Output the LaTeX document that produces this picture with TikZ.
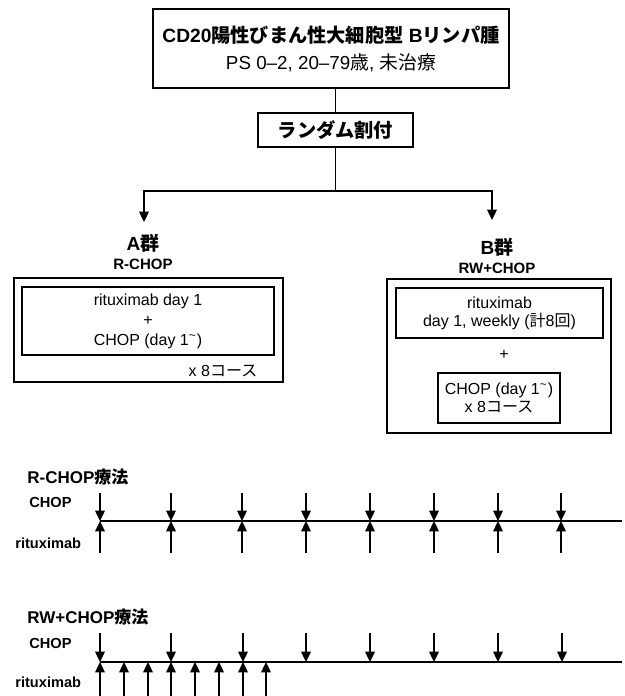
\documentclass[tikz,border=0pt]{standalone}
\usepackage{fontspec}
\setmainfont{Liberation Sans}
\newfontfamily\jp{Noto Sans CJK JP}
\usetikzlibrary{arrows.meta}
\newcommand{\tld}{\textsuperscript{\textasciitilde}}
\begin{document}
\begin{tikzpicture}[x=0.5pt,y=-0.5pt,
  box/.style={draw, line width=0.9pt, inner sep=0pt, align=center},
  txt/.style={inner sep=0pt, align=center},
  arr/.style={line width=0.85pt, -{Triangle[width=4.8pt,length=5.2pt]}},
  ln/.style={line width=0.85pt},
  fhead/.style={font=\bfseries\fontsize{9.6}{12}\selectfont},
  fgrp/.style={font=\bfseries\fontsize{9.5}{11}\selectfont},
  fsub/.style={font=\bfseries\fontsize{7.5}{9}\selectfont},
  fbody/.style={font=\fontsize{8}{10}\selectfont},
  ftl/.style={font=\bfseries\fontsize{8.5}{10}\selectfont},
  flab/.style={font=\bfseries\fontsize{7.3}{9}\selectfont},
]
\useasboundingbox (0,0) rectangle (625,696);

% header box
\node[box, minimum width=178pt, minimum height=39.5pt] (top) at (331,48.5)
  {{\bfseries\fontsize{9.6}{12}\selectfont CD20{\jp 陽性びまん性大細胞型} B{\jp リンパ腫}}\\[1.5pt]
   {\fontsize{9.4}{12}\selectfont PS 0--2, 20--79{\jp 歳}, {\jp 未治療}}};

% randomisation
\node[box, minimum width=77.5pt, minimum height=17pt, fhead] (rand) at (335.5,130) {\jp ランダム割付};
\draw[ln] (top.south -| rand.north) -- (rand.north);

\coordinate (jl) at (144,191);
\coordinate (jr) at (492,191);
\coordinate (jm) at (rand.south |- jl);
\coordinate (al) at (144,222);
\coordinate (ar) at (492,220);
\draw[ln] (rand.south) -- (jm);
\draw[arr] (jm) -- (jl) -- (al);
\draw[arr] (jm) -- (jr) -- (ar);

% group A
\node[txt, fgrp] (labA) at (143,243) {A{\jp 群}};
\node[txt, fsub] (subA) at (143,264) {R-CHOP};
\node[box, minimum width=134.5pt, minimum height=52pt] (outA) at (148.5,330) {};
\node[box, minimum width=126pt, minimum height=34pt, fbody] (inA) at (148,321)
  {rituximab day 1\\+\\CHOP (day 1\tld)};
\node[txt, fbody] (curA) at (223,371) {x 8{\jp コース}};

% group B
\node[txt, fgrp] (labB) at (497,247) {B{\jp 群}};
\node[txt, fsub] (subB) at (497,268) {RW+CHOP};
\node[box, minimum width=112pt, minimum height=77pt] (outB) at (499,356) {};
\node[box, minimum width=103.5pt, minimum height=25pt, font=\fontsize{8}{9}\selectfont] (inB1) at (499.5,313)
  {rituximab\\day 1, weekly ({\jp 計}8{\jp 回})};
\node[txt, fbody] (plusB) at (504,355) {+};
\node[box, minimum width=61pt, minimum height=25pt, font=\fontsize{8}{9}\selectfont] (inB2) at (499,398)
  {CHOP (day 1\tld)\\x 8{\jp コース}};

% timeline R-CHOP
\node[txt, ftl, anchor=west] (tl1) at (27,477) {R-CHOP{\jp 療法}};
\node[txt, flab, anchor=west] (c1) at (29,502) {CHOP};
\node[txt, flab, anchor=west] (r1) at (15,543) {rituximab};
\coordinate (s1) at (100,521);
\coordinate (e1) at (622,521);
\draw[line width=0.9pt] (s1) -- (e1);
\foreach \x [count=\i] in {100,171,242,306,370,434,498,561} {
  \coordinate (ua\i) at (\x,493);
  \coordinate (ma\i) at (\x,521);
  \coordinate (la\i) at (\x,553);
  \draw[arr] (ua\i) -- (ma\i);
  \draw[arr] (la\i) -- (ma\i);
}

% timeline RW+CHOP
\node[txt, ftl, anchor=west] (tl2) at (27,617) {RW+CHOP{\jp 療法}};
\node[txt, flab, anchor=west] (c2) at (29,643) {CHOP};
\node[txt, flab, anchor=west] (r2) at (15,682) {rituximab};
\coordinate (s2) at (100,662);
\coordinate (e2) at (622,662);
\draw[line width=0.9pt] (s2) -- (e2);
\foreach \x [count=\i] in {100,171,243,306,370,434,498,562} {
  \coordinate (ub\i) at (\x,633);
  \coordinate (mb\i) at (\x,662);
  \draw[arr] (ub\i) -- (mb\i);
}
\foreach \x [count=\i] in {100,124,148,171,195,219,243,266} {
  \coordinate (lb\i) at (\x,697);
  \coordinate (nb\i) at (\x,662);
  \draw[arr] (lb\i) -- (nb\i);
}
\end{tikzpicture}
\end{document}
